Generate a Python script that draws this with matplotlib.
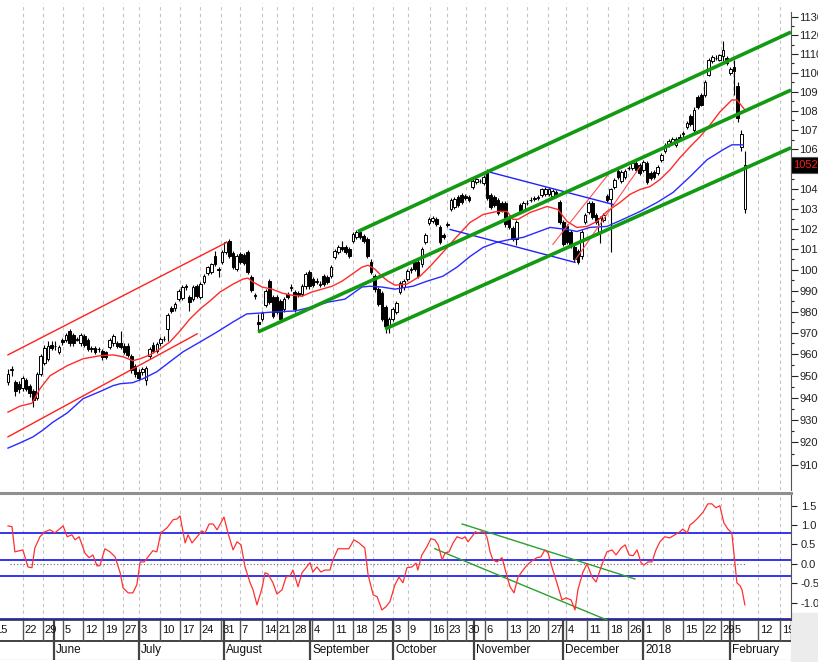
import numpy as np
import matplotlib
matplotlib.use('Agg')
import matplotlib.pyplot as plt
import matplotlib.transforms as mtrans
from matplotlib.ticker import FixedLocator, NullFormatter, FuncFormatter
from matplotlib.patches import Rectangle

plt.rcParams['font.family'] = ['Liberation Sans Narrow', 'Liberation Sans', 'DejaVu Sans']

#DATA{{{
opens = [9470, 9525, 9470, 9465, 9445, 9480, 9455, 9430, 9400, 9510,
         9560, 9580, 9645, 9640, 9610, 9665, 9665, 9710, 9690, 9672,
         9650, 9685, 9665, 9628, 9630, 9622, 9615, 9610, 9635, 9650,
         9650, 9650, 9640, 9640, 9590, 9545, 9520, 9520, 9480, 9590,
         9645, 9615, 9650, 9670, 9720, 9815, 9815, 9860, 9865, 9918,
         9870, 9860, 9920, 9870, 9940, 9985, 9990, 10065, 10005, 10037,
         10085, 10140, 10080, 10003, 10075, 10070, 10085, 9965, 9880, 9750,
         9765, 9830, 9945, 9870, 9870, 9850, 9812, 9883, 9913, 9895,
         9890, 9883, 9920, 9990, 9955, 9943, 9928, 9970, 9965, 9970,
         10060, 10085, 10110, 10110, 10100, 10140, 10160, 10185, 10165, 10148,
         10040, 9970, 9907, 9890, 9820, 9730, 9765, 9800, 9895, 9915,
         9955, 9998, 10040, 10040, 10027, 10135, 10230, 10240, 10250, 10210,
         10170, 10220, 10300, 10310, 10360, 10370, 10365, 10360, 10410, 10435,
         10438, 10430, 10485, 10370, 10360, 10345, 10330, 10330, 10260, 10205,
         10148, 10320, 10295, 10328, 10343, 10350, 10355, 10370, 10375, 10372,
         10365, 10385, 10335, 10235, 10215, 10185, 10110, 10090, 10065, 10235,
         10285, 10330, 10270, 10180, 10245, 10365, 10346, 10410, 10490, 10440,
         10460, 10505, 10505, 10530, 10520, 10495, 10530, 10480, 10485, 10480,
         10545, 10590, 10620, 10635, 10620, 10665, 10678, 10715, 10770, 10700,
         10870, 10880, 10880, 10990, 11060, 11078, 11070, 11090, 11080, 11000,
         11030, 10930, 10610, 10300]
highs = [9530, 9545, 9480, 9475, 9500, 9490, 9465, 9440, 9520, 9600,
         9645, 9660, 9660, 9660, 9645, 9675, 9700, 9720, 9700, 9680,
         9700, 9695, 9675, 9640, 9640, 9635, 9625, 9615, 9675, 9695,
         9660, 9710, 9650, 9650, 9600, 9555, 9530, 9540, 9545, 9635,
         9655, 9655, 9680, 9685, 9795, 9825, 9845, 9910, 9925, 9930,
         9880, 9925, 9930, 9940, 9980, 10020, 10035, 10090, 10015, 10095,
         10140, 10150, 10090, 10075, 10085, 10080, 10095, 9975, 9890, 9790,
         9805, 9910, 9955, 9880, 9880, 9860, 9870, 9895, 9930, 9905,
         9900, 9930, 9990, 10000, 9965, 9960, 9945, 9980, 9975, 10025,
         10100, 10120, 10140, 10120, 10110, 10185, 10195, 10195, 10175, 10160,
         10050, 9980, 9915, 9900, 9830, 9775, 9820, 9850, 9945, 9955,
         10005, 10015, 10050, 10050, 10110, 10180, 10260, 10265, 10260, 10220,
         10180, 10235, 10355, 10360, 10370, 10380, 10375, 10370, 10450, 10460,
         10450, 10470, 10500, 10380, 10370, 10355, 10340, 10340, 10270, 10215,
         10245, 10330, 10340, 10345, 10360, 10365, 10370, 10405, 10410, 10405,
         10400, 10395, 10345, 10245, 10225, 10195, 10120, 10100, 10195, 10280,
         10340, 10340, 10280, 10265, 10280, 10375, 10405, 10455, 10500, 10495,
         10500, 10515, 10540, 10540, 10530, 10545, 10540, 10490, 10495, 10520,
         10580, 10630, 10655, 10665, 10665, 10680, 10695, 10745, 10780, 10820,
         10880, 10890, 10960, 11080, 11095, 11095, 11100, 11170, 11090, 11030,
         11070, 10950, 10700, 10590]
lows = [9460, 9500, 9410, 9420, 9430, 9430, 9405, 9360, 9390, 9500,
        9550, 9570, 9620, 9620, 9600, 9645, 9655, 9640, 9640, 9660,
        9640, 9635, 9615, 9612, 9600, 9610, 9575, 9580, 9625, 9640,
        9630, 9625, 9600, 9585, 9515, 9495, 9480, 9505, 9460, 9580,
        9605, 9605, 9640, 9660, 9660, 9795, 9805, 9850, 9855, 9905,
        9805, 9850, 9865, 9860, 9930, 9975, 9980, 10020, 9965, 10030,
        10075, 10055, 10005, 9995, 10030, 10025, 9980, 9895, 9860, 9705,
        9755, 9820, 9835, 9770, 9790, 9755, 9800, 9860, 9900, 9800,
        9870, 9875, 9910, 9910, 9915, 9930, 9915, 9920, 9930, 9960,
        10050, 10075, 10090, 10075, 10055, 10130, 10150, 10150, 10130, 10055,
        9980, 9895, 9825, 9755, 9700, 9700, 9755, 9790, 9885, 9905,
        9945, 9985, 9995, 9960, 10015, 10125, 10220, 10230, 10215, 10125,
        10150, 10210, 10290, 10300, 10310, 10325, 10345, 10335, 10400, 10425,
        10430, 10420, 10345, 10300, 10310, 10270, 10285, 10210, 10200, 10140,
        10120, 10280, 10285, 10320, 10335, 10340, 10345, 10360, 10365, 10362,
        10355, 10365, 10225, 10115, 10125, 10105, 10040, 10030, 10050, 10225,
        10275, 10250, 10225, 10130, 10235, 10335, 10085, 10400, 10450, 10430,
        10450, 10495, 10495, 10485, 10470, 10485, 10425, 10445, 10450, 10470,
        10535, 10580, 10610, 10625, 10610, 10650, 10665, 10705, 10720, 10690,
        10810, 10825, 10870, 10980, 11050, 11070, 11060, 11060, 11040, 10990,
        10880, 10740, 10590, 10280]
closes = [9510, 9530, 9430, 9440, 9490, 9440, 9420, 9390, 9510, 9590,
          9630, 9640, 9630, 9638, 9635, 9655, 9690, 9650, 9650, 9668,
          9690, 9645, 9625, 9625, 9610, 9625, 9585, 9588, 9665, 9685,
          9640, 9635, 9612, 9595, 9525, 9510, 9490, 9530, 9535, 9625,
          9615, 9648, 9670, 9672, 9785, 9805, 9835, 9900, 9915, 9920,
          9845, 9915, 9875, 9930, 9970, 10013, 10027, 10027, 10000, 10085,
          10135, 10065, 10015, 10065, 10040, 10035, 9990, 9905, 9872, 9740,
          9795, 9900, 9845, 9780, 9800, 9765, 9859, 9870, 9915, 9812,
          9880, 9920, 9979, 9920, 9925, 9945, 9930, 9930, 9940, 10013,
          10090, 10110, 10100, 10085, 10065, 10175, 10185, 10160, 10140, 10065,
          9990, 9907, 9836, 9765, 9730, 9765, 9812, 9840, 9935, 9945,
          9995, 10005, 10003, 9970, 10100, 10170, 10250, 10255, 10225, 10135,
          10160, 10222, 10345, 10350, 10320, 10335, 10355, 10345, 10440, 10450,
          10440, 10460, 10355, 10310, 10320, 10280, 10295, 10222, 10210, 10150,
          10235, 10290, 10330, 10330, 10345, 10352, 10357, 10396, 10400, 10396,
          10390, 10375, 10235, 10124, 10135, 10115, 10051, 10040, 10185, 10271,
          10330, 10260, 10235, 10255, 10270, 10345, 10396, 10446, 10460, 10485,
          10490, 10505, 10530, 10495, 10480, 10535, 10436, 10455, 10460, 10510,
          10570, 10620, 10645, 10655, 10655, 10650, 10682, 10735, 10730, 10805,
          10820, 10830, 10950, 11070, 11085, 11080, 11095, 11120, 11050, 11020,
          11010, 10760, 10680, 10520]
last_price = 10520.3

# moving averages (day index, price)
ma_red_x = [0, 3.3, 6.6, 8.8, 11.6, 16.3, 20.7, 25.3, 28.9, 31.7, 34.4, 36.4, 39.1, 41.9,
            44.6, 47.4, 50.1, 52.9, 55.6, 58.4, 62.0, 64.7, 66.1, 67.5, 70.0, 72.7, 75.5,
            78.2, 81.0, 83.7, 86.5, 89.3, 92.0, 94.8, 97.5, 99.2, 101.1, 103.0, 104.7,
            106.6, 109.9, 113.5, 116.3, 119.8, 123.7, 127.3, 130.9, 134.7, 137.5, 139.1,
            140.5, 143.8, 148.5, 151.5, 154.0, 156.7, 159.5, 162.3, 165.0, 168.6, 171.3,
            174.1, 176.9, 179.6, 182.4, 185.1, 187.9, 190.6, 193.4, 196.1, 199.4, 200.8, 203.0]
ma_red_y = [9335, 9362, 9375, 9441, 9501, 9547, 9579, 9593, 9597, 9588, 9570, 9579, 9597, 9625,
            9657, 9709, 9765, 9812, 9850, 9893, 9931, 9955, 9960, 9941, 9917, 9907, 9888,
            9878, 9873, 9893, 9907, 9921, 9945, 9979, 10013, 10022, 10003, 9969, 9945,
            9926, 9931, 9969, 10017, 10085, 10163, 10232, 10271, 10286, 10286, 10247,
            10247, 10281, 10311, 10296, 10237, 10207, 10212, 10237, 10286, 10331, 10371,
            10396, 10411, 10446, 10496, 10557, 10613, 10664, 10726, 10793, 10856, 10856, 10804]
ma_blue_x = [0, 3.3, 6.9, 9.6, 12.4, 16.3, 20.7, 25.3, 28.9, 30.9, 34.4, 37.2, 41.0, 44.6,
             48.2, 52.9, 57.6, 62.0, 65.8, 69.4, 73.0, 79.1, 83.7, 88.2, 92.8, 97.5, 99.7,
             103.0, 106.6, 111.6, 115.4, 119.8, 123.7, 127.3, 130.9, 134.7, 138.3, 141.9,
             145.7, 149.3, 154.0, 156.7, 160.3, 165.0, 169.4, 174.1, 178.8, 183.2, 187.9,
             192.6, 197.0, 199.4, 202.5]
ma_blue_y = [9174, 9197, 9224, 9254, 9290, 9331, 9396, 9428, 9455, 9464, 9469, 9487, 9519, 9565,
             9611, 9657, 9704, 9751, 9789, 9793, 9798, 9803, 9822, 9845, 9859, 9917, 9921,
             9917, 9907, 9921, 9945, 9969, 10013, 10065, 10109, 10134, 10148, 10158,
             10183, 10207, 10197, 10187, 10207, 10212, 10247, 10286, 10331, 10381, 10461,
             10547, 10598, 10623, 10623]

# drawn trend lines: (start day, start price, end day, end price)
green_channel = [(96.4, 10187, 215.7, 11218),
                 (68.9, 9704, 215.7, 10908),
                 (103.9, 9718, 215.7, 10608)]
red_channel = [(0, 9597, 60.3, 10134),
               (0, 9224, 52.1, 9695)]
red_thin = [(150.1, 10124, 166.4, 10496),
            (156.2, 10046, 174.1, 10511)]
blue_wedge = [(132.2, 10486, 166.7, 10321),
              (121.8, 10197, 156.2, 10036)]

# oscillator
osc_x = [0, 1.1, 1.9, 3.3, 4.1, 5.5, 6.6, 7.4, 8.8, 10.2, 11.6, 12.9, 15.2, 16.3, 17.6, 18.5,
         19.6, 21.2, 22.3, 23.4, 24.5, 25.3, 26.7, 28.1, 29.5, 30.9, 31.7, 33.1, 34.4, 35.5,
         36.4, 37.5, 38.6, 39.9, 41.0, 42.1, 43.8, 45.5, 46.6, 47.4, 48.8, 49.6, 50.7, 52.1,
         53.4, 54.3, 55.4, 56.5, 57.6, 59.5, 60.6, 62.0, 63.1, 64.2, 65.3, 66.7, 67.5, 68.6,
         70.0, 70.8, 71.6, 73.0, 74.1, 75.5, 76.6, 77.7, 78.5, 79.9, 81.0, 82.1, 83.2, 84.0,
         85.1, 86.2, 87.3, 88.7, 89.5, 90.9, 92.8, 93.9, 95.3, 96.7, 98.3, 99.2, 100.6, 101.7,
         103.0, 104.1, 105.2, 106.6, 107.7, 108.8, 109.9, 111.3, 112.4, 112.9, 114.0, 115.4,
         116.5, 117.6, 118.5, 119.6, 120.4, 121.5, 122.6, 123.7, 125.1, 125.9, 126.7, 127.8,
         128.7, 129.5, 130.6, 131.4, 132.0, 132.8, 133.6, 134.7, 136.1, 137.2, 138.3, 139.4,
         140.5, 141.9, 143.0, 144.4, 145.7, 146.8, 147.9, 148.8, 149.9, 151.2, 152.6, 153.7,
         155.1, 156.2, 157.0, 158.4, 159.5, 160.9, 162.0, 163.1, 164.2, 165.0, 166.4, 167.5,
         168.9, 170.0, 171.1, 172.2, 173.3, 174.4, 175.2, 176.3, 177.4, 178.5, 179.6, 180.9,
         182.3, 183.7, 185.1, 185.9, 187.1, 187.9, 188.7, 190.1, 191.5, 192.8, 193.9, 195.0,
         196.1, 197.2, 198.3, 199.4, 200.8, 201.7, 202.2, 203.0]
osc_v = [0.98, 0.96, 0.31, 0.34, 0.36, -0.08, -0.10, 0.41, 0.70, 0.83, 0.88, 0.80, 0.98, 0.70,
         0.75, 0.62, 0.70, 0.28, 0.16, 0.23, -0.05, -0.05, 0.39, 0.31, 0.18, -0.23, -0.62,
         -0.75, -0.75, -0.54, 0.05, 0.05, 0.18, 0.34, 0.31, 0.80, 0.93, 1.14, 1.16, 1.24,
         0.54, 0.75, 0.54, 0.70, 0.85, 0.80, 1.03, 1.03, 0.88, 1.21, 0.80, 0.36, 0.57, 0.49,
         -0.08, -0.49, -0.67, -1.06, -0.62, -0.23, -0.26, -0.49, -0.78, -0.67, -0.34, -0.31,
         -0.16, -0.59, -0.23, -0.10, 0.03, -0.21, -0.08, -0.21, -0.16, -0.16, 0.10, 0.39,
         0.39, 0.39, 0.62, 0.54, 0.41, -0.28, -0.80, -0.85, -1.19, -1.11, -0.98, -0.54,
         -0.34, -0.49, -0.10, -0.08, 0.02, -0.16, 0.23, 0.44, 0.65, 0.62, 0.49, 0.10, 0.28,
         0.31, 0.54, 0.70, 0.65, 0.70, 0.57, 0.70, 0.83, 0.80, 0.83, 0.80, 0.67, 0.31, 0.10,
         0.05, 0.16, -0.23, -0.59, -0.75, -0.34, -0.16, -0.03, 0.08, 0.16, 0.18, 0.36, 0.28,
         -0.10, -0.49, -0.93, -0.88, -0.93, -1.19, -0.67, -0.21, 0.0, -0.34, -0.47, -0.16,
         0.13, 0.31, 0.36, 0.23, 0.41, 0.49, 0.23, 0.21, 0.36, 0.03, -0.03, 0.05, 0.05, 0.36,
         0.57, 0.70, 0.67, 0.75, 0.83, 0.90, 0.80, 1.01, 1.06, 1.19, 1.34, 1.55, 1.55, 1.45,
         1.50, 1.06, 0.90, 0.80, -0.49, -0.57, -0.67, -1.06]
osc_levels = [0.8, 0.1, -0.31, -1.42]
osc_green = [(125.1, 1.03, 172.7, -0.39),
             (117.6, 0.39, 165.0, -1.45)]

price_ticks = list(range(9100, 11301, 100))
osc_ticks = [1.5, 1.0, 0.5, 0.0, -0.5, -1.0]

week_pos = [-4.0, 4.1, 9.6, 15.2, 20.7, 26.2, 31.7, 36.1, 41.9, 47.4, 52.9, 58.7, 63.9, 70.0,
            74.1, 78.5, 83.7, 89.5, 95.0, 100.6, 106.1, 110.2, 116.3, 120.9, 126.2, 131.4,
            137.5, 143.0, 148.8, 153.7, 159.5, 165.3, 170.8, 174.9, 180.4, 185.9, 191.4,
            196.4, 199.6, 206.6, 212.7]
week_lab = ['15', '22', '29', '5', '12', '19', '27', '3', '10', '17', '24', '31', '7', '14',
            '21', '28', '4', '11', '18', '25', '3', '9', '16', '23', '30', '6', '13', '20',
            '27', '4', '11', '18', '26', '1', '8', '15', '22', '29', '5', '12', '19']
month_pos = [12.7, 36.1, 59.5, 83.2, 106.1, 128.4, 152.9, 174.9, 198.9]
month_lab = ['June', 'July', 'August', 'September', 'October', 'November', 'December',
             '2018', 'February']
#}}}

W, H = 818.0, 662.0
XL = (-2.2, 215.7)
fig = plt.figure(figsize=(W / 100, H / 100), dpi=100)
fig.patch.set_facecolor('white')
ax1 = fig.add_axes([0, (H - 490) / H, 791 / W, 487 / H])
ax2 = fig.add_axes([0, (H - 620) / H, 791 / W, 127 / H])
ax3 = fig.add_axes([0, (H - 660) / H, 791 / W, 40 / H])
fig.patches.append(Rectangle((791 / W, 0), 27 / W, 49 / H, transform=fig.transFigure,
                             color='#ececec', zorder=-5))

grid_kw = dict(color='#c4c4c4', lw=0.8, ls=(0, (3, 3)), zorder=0)

##Price panel
days = np.arange(len(closes))
o = np.array(opens, float); c = np.array(closes, float)
h = np.array(highs, float); l = np.array(lows, float)
ax1.set_yscale('log')
ax1.set_xlim(*XL)
ax1.set_ylim(8990, 11377)
for p in week_pos:
    ax1.axvline(p, **grid_kw)
ax1.vlines(days, l, h, color='black', lw=0.8, zorder=3)
up = c >= o
body_lo = np.minimum(o, c); body_hi = np.maximum(o, c)
ax1.bar(days[up], (body_hi - body_lo)[up], bottom=body_lo[up], width=0.72,
        facecolor='white', edgecolor='black', lw=0.7, zorder=4)
ax1.bar(days[~up], (body_hi - body_lo)[~up], bottom=body_lo[~up], width=0.72,
        facecolor='black', edgecolor='black', lw=0.7, zorder=4)
ax1.plot(ma_red_x, ma_red_y, color='#ff2a2a', lw=1.0, zorder=5)
ax1.plot(ma_blue_x, ma_blue_y, color='#2a2aff', lw=1.0, zorder=5)
for x0, y0, x1, y1 in red_channel:
    ax1.plot([x0, x1], [y0, y1], color='#ff2020', lw=1.0, zorder=5)
for x0, y0, x1, y1 in red_thin:
    ax1.plot([x0, x1], [y0, y1], color='#ff5050', lw=0.8, zorder=5)
for x0, y0, x1, y1 in blue_wedge:
    ax1.plot([x0, x1], [y0, y1], color='#2020ff', lw=1.0, zorder=5)
for x0, y0, x1, y1 in green_channel:
    ax1.plot([x0, x1], [y0, y1], color='#129a12', lw=2.6, zorder=6,
             solid_capstyle='butt')

ax1.yaxis.tick_right()
ax1.yaxis.set_major_locator(FixedLocator(price_ticks))
ax1.yaxis.set_major_formatter(FuncFormatter(lambda v, pos: '%d' % round(v)))
ax1.yaxis.set_minor_locator(FixedLocator([v + 50 for v in price_ticks[:-1]]))
ax1.yaxis.set_minor_formatter(NullFormatter())
ax1.tick_params(axis='y', which='major', length=5, width=0.8, pad=1, labelsize=8,
                colors='#222222')
ax1.tick_params(axis='y', which='minor', length=2.5, width=0.8, colors='#222222')
ax1.set_xticks([])
for s in ['top', 'left', 'bottom']:
    ax1.spines[s].set_visible(False)
ax1.spines['right'].set_color('#555555')
ax1.spines['right'].set_bounds(8990, 11330)
ax1.set_facecolor('none')
ax1.text(1.003, last_price, '%.1f' % last_price,
         transform=mtrans.blended_transform_factory(ax1.transAxes, ax1.transData),
         color='#ff1a1a', fontsize=8, ha='left', va='center', clip_on=False, zorder=20,
         bbox=dict(boxstyle='square,pad=0.25', fc='black', ec='#555555', lw=0.8))

##Oscillator panel
ax2.set_xlim(*XL)
ax2.set_ylim(-1.45, 1.83)
for p in week_pos:
    ax2.axvline(p, **grid_kw)
for lv in osc_levels:
    ax2.axhline(lv, color='#2424f0', lw=1.3, zorder=2)
ax2.plot([0.5, 203], [0, 0], color='#666666', lw=0.8, ls=(0, (1, 2)), zorder=2)
for x0, y0, x1, y1 in osc_green:
    ax2.plot([x0, x1], [y0, y1], color='#2ca02c', lw=1.0, zorder=3)
ax2.plot(osc_x, osc_v, color='#ff3030', lw=0.9, zorder=4)
ax2.yaxis.tick_right()
ax2.set_yticks(osc_ticks)
ax2.yaxis.set_major_formatter(FuncFormatter(lambda v, pos: '%.1f' % v))
ax2.tick_params(axis='y', length=4, width=0.8, pad=3, labelsize=8, colors='#222222')
ax2.set_xticks([])
ax2.spines['left'].set_visible(False)
ax2.spines['top'].set_color('#909090')
ax2.spines['top'].set_linewidth(2.2)
ax2.spines['right'].set_color('#555555')
ax2.spines['bottom'].set_color('#333333')
ax2.spines['bottom'].set_linewidth(1.2)

##Date rows
ax3.set_xlim(*XL)
ax3.set_ylim(0, 1)
ax3.axis('off')
ax3.axhline(0.475, color='#222222', lw=1.2)
ax3.axhline(0.0, color='#dddddd', lw=1.0)
ax3.vlines(week_pos, 0.475, 1, color='#555555', lw=1.0)
ax3.vlines(month_pos, 0, 1, color='#444444', lw=1.6)
ax3.vlines([XL[1]], 0.475, 1, color='#555555', lw=1.0)
for p, t in zip(week_pos, week_lab):
    ax3.text(p + 0.5, 0.74, t, ha='left', va='center', fontsize=8, color='#111111',
             clip_on=True)
for p, t in zip(month_pos, month_lab):
    ax3.text(p + 0.6, 0.24, t, ha='left', va='center', fontsize=8.5, color='#111111',
             clip_on=True)

fig.savefig('out.png', dpi=100)
